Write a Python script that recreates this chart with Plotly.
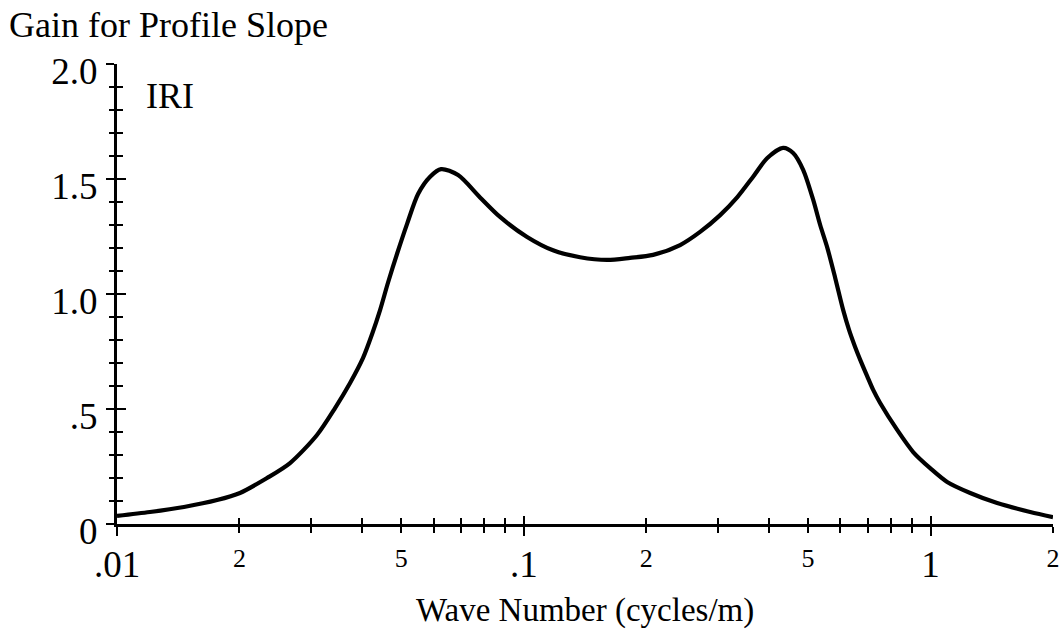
import plotly.graph_objects as go

# Wave number (cycles/m) and IRI gain for profile slope
wave_number = [0.01, 0.01205, 0.01461, 0.01762, 0.02006, 0.02338, 0.02663, 0.03102,
               0.03436, 0.03741, 0.04026, 0.04236, 0.04433, 0.04638, 0.04881, 0.05166,
               0.05497, 0.05885, 0.06262, 0.06895, 0.07807, 0.08743, 0.1019, 0.1180,
               0.1375, 0.1603, 0.1825, 0.2079, 0.2423, 0.2713, 0.3039, 0.3346, 0.3663,
               0.3964, 0.4341, 0.4594, 0.4862, 0.5145, 0.5354, 0.5569, 0.5829, 0.6099,
               0.6307, 0.6525, 0.6752, 0.6985, 0.7227, 0.7518, 0.8279, 0.9063, 0.9977,
               1.0985, 1.2518, 1.458, 1.758, 2.0]
gain = [0.035, 0.052, 0.074, 0.104, 0.135, 0.200, 0.265, 0.387,
        0.504, 0.613, 0.722, 0.825, 0.930, 1.050, 1.175, 1.305,
        1.435, 1.510, 1.543, 1.517, 1.420, 1.335, 1.248, 1.190,
        1.160, 1.148, 1.157, 1.170, 1.213, 1.270, 1.343, 1.420, 1.510,
        1.590, 1.635, 1.613, 1.540, 1.410, 1.300, 1.204, 1.070, 0.930,
        0.843, 0.770, 0.704, 0.643, 0.583, 0.526, 0.409, 0.313, 0.243,
        0.183, 0.135, 0.091, 0.052, 0.030]

x_major_vals = [0.01, 0.1, 1]
x_major_text = [".01", ".1", "1"]
x_minor_label_vals = [0.02, 0.05, 0.2, 0.5, 2]
x_minor_label_text = ["2", "5", "2", "5", "2"]
x_minor_ticks = [m * d for d in (0.01, 0.1, 1) for m in range(2, 10)]
x_minor_ticks = [v for v in x_minor_ticks if v <= 2]

y_major_vals = [0, 0.5, 1.0, 1.5, 2.0]
y_major_text = ["0", ".5", "1.0", "1.5", "2.0"]

FONT = "Liberation Serif"
XR = [-2, 0.30103]
YR = [0, 2]

fig = go.Figure()
fig.add_trace(go.Scatter(x=wave_number, y=gain, mode="lines",
                         line=dict(color="black", width=4.2, shape="spline", smoothing=0.8),
                         hoverinfo="skip", showlegend=False))
# helper traces that attach the overlay axes (invisible)
fig.add_trace(go.Scatter(x=wave_number, y=gain, xaxis="x2", yaxis="y2", mode="lines",
                         line=dict(color="rgba(0,0,0,0)", width=0), hoverinfo="skip",
                         showlegend=False))
fig.add_trace(go.Scatter(x=wave_number, y=gain, xaxis="x3", yaxis="y", mode="lines",
                         line=dict(color="rgba(0,0,0,0)", width=0), hoverinfo="skip",
                         showlegend=False))

common_x = dict(type="log", range=XR, showgrid=False, zeroline=False, automargin=False)
common_y = dict(range=YR, showgrid=False, zeroline=False, automargin=False)

fig.update_layout(
    width=1063, height=639,
    margin=dict(l=117, r=10, t=64, b=115),
    paper_bgcolor="white", plot_bgcolor="white",
    font=dict(family=FONT, color="black"),
    xaxis=dict(**common_x, showline=True, linecolor="black", linewidth=3,
               tickmode="array", tickvals=x_major_vals, ticktext=x_major_text,
               ticks="outside", ticklen=9, tickwidth=2, tickcolor="black",
               tickfont=dict(family=FONT, size=37, color="black"),
               ticklabelstandoff=-3,
               minor=dict(tickmode="array", tickvals=x_minor_ticks + [2], ticks="outside",
                          ticklen=6, tickwidth=2, tickcolor="black"),
               anchor="y"),
    xaxis2=dict(**common_x, overlaying="x", anchor="y2", side="bottom",
                showline=False, tickmode="array", tickvals=x_major_vals,
                ticks="inside", ticklen=8, tickwidth=2, tickcolor="black",
                showticklabels=False,
                minor=dict(tickmode="array", tickvals=x_minor_ticks + [2], ticks="inside",
                           ticklen=6, tickwidth=2, tickcolor="black")),
    xaxis3=dict(**common_x, overlaying="x", anchor="y", side="bottom",
                showline=False, tickmode="array", tickvals=x_minor_label_vals,
                ticktext=x_minor_label_text, ticks="", ticklabelstandoff=16,
                tickfont=dict(family=FONT, size=26, color="black")),
    yaxis=dict(**common_y, showline=True, linecolor="black", linewidth=3,
               tickmode="array", tickvals=y_major_vals, ticktext=y_major_text,
               ticks="outside", ticklen=8, tickwidth=2, tickcolor="black",
               tickfont=dict(family=FONT, size=37, color="black"),
               ticklabelshift=7, ticklabelstandoff=1,
               minor=dict(dtick=0.1, ticks="outside", ticklen=5, tickwidth=2,
                          tickcolor="black"),
               anchor="x"),
    yaxis2=dict(**common_y, overlaying="y", anchor="x2", side="left",
                showline=False, tickmode="array", tickvals=y_major_vals,
                ticks="inside", ticklen=9, tickwidth=2, tickcolor="black",
                showticklabels=False,
                minor=dict(dtick=0.1, ticks="inside", ticklen=6, tickwidth=2,
                           tickcolor="black")),
    annotations=[
        dict(text="Gain for Profile Slope", xref="paper", yref="paper",
             x=-0.1175, y=1.085, xanchor="left", yanchor="middle", showarrow=False,
             font=dict(family=FONT, size=36, color="black")),
        dict(text="IRI", xref="paper", yref="paper",
             x=0.0285, y=0.93, xanchor="left", yanchor="middle", showarrow=False,
             font=dict(family=FONT, size=36, color="black")),
        dict(text="Wave Number (cycles/m)", xref="paper", yref="paper",
             x=0.5, y=-0.187, xanchor="center", yanchor="middle", showarrow=False,
             font=dict(family=FONT, size=33, color="black")),
    ],
)

fig.write_html("out.html")
